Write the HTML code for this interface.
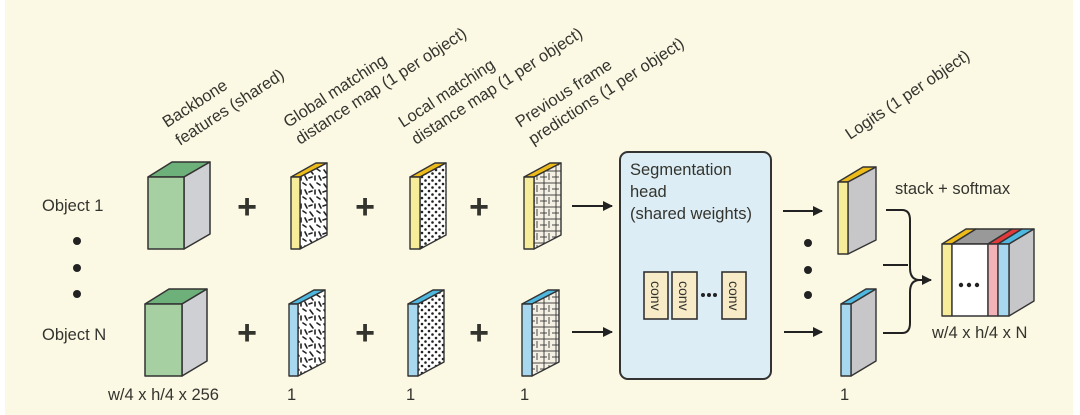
<!DOCTYPE html>
<html><head><meta charset="utf-8"><style>
html,body{margin:0;padding:0;background:#fff;}
svg{display:block;}
text{font-family:"Liberation Sans",sans-serif;fill:#34342e;}
</style></head><body>
<svg width="1080" height="415" viewBox="0 0 1080 415" xmlns="http://www.w3.org/2000/svg">
<defs>
<pattern id="dash" width="14" height="14" patternUnits="userSpaceOnUse">
<rect width="14" height="14" fill="#fff"/>
<g stroke="#222" stroke-width="1.6" stroke-linecap="round">
<line x1="2" y1="2" x2="5" y2="6"/><line x1="9" y1="1" x2="12" y2="3"/><line x1="7" y1="8" x2="7" y2="12"/><line x1="1" y1="10" x2="4" y2="9"/><line x1="11" y1="8" x2="13" y2="12"/>
</g></pattern>
<pattern id="dots" width="7" height="7" patternUnits="userSpaceOnUse">
<rect width="7" height="7" fill="#fff"/>
<circle cx="2" cy="2" r="1.3" fill="#222"/><circle cx="5.5" cy="5.5" r="1.3" fill="#222"/>
</pattern>
<pattern id="grid" width="12" height="12" patternUnits="userSpaceOnUse">
<rect width="12" height="12" fill="#f4f1e4"/>
<g stroke="#333" stroke-width="0.9"><line x1="0" y1="3" x2="12" y2="3"/><line x1="4" y1="0" x2="4" y2="12"/><line x1="9" y1="5" x2="9" y2="12"/><line x1="0" y1="9" x2="7" y2="9"/></g>
</pattern>
<marker id="ah" markerWidth="10" markerHeight="10" refX="9" refY="5" orient="auto" markerUnits="userSpaceOnUse">
<path d="M0,0 L10,5 L0,10 Z" fill="#222"/></marker>
</defs>
<rect x="5" y="0" width="1068" height="415" fill="#fbf8e4"/>

<g font-size="16.5">
<text transform="translate(167,128) rotate(-33)">Backbone</text>
<text transform="translate(180,146) rotate(-33)">features (shared)</text>
<text transform="translate(288,128) rotate(-33)">Global matching</text>
<text transform="translate(300,145) rotate(-33)">distance map (1 per object)</text>
<text transform="translate(403,128) rotate(-33)">Local matching</text>
<text transform="translate(416,145) rotate(-33)">distance map (1 per object)</text>
<text transform="translate(520,128) rotate(-33)">Previous frame</text>
<text transform="translate(533,145) rotate(-33)">predictions (1 per object)</text>
<text transform="translate(850,140) rotate(-34)">Logits (1 per object)</text>
</g>

<g font-size="16.5">
<text x="42" y="211">Object 1</text>
<text x="42" y="340">Object N</text>
<text x="108" y="400">w/4  x  h/4 x 256</text>
<text x="287" y="400">1</text><text x="406" y="400">1</text><text x="520" y="400">1</text><text x="840" y="400">1</text>
<text x="895" y="194">stack + softmax</text>
<text x="932" y="338">w/4  x  h/4  x N</text>
</g>
<g fill="#222"><circle cx="77" cy="241" r="4"/><circle cx="77" cy="268" r="4"/><circle cx="77" cy="294" r="4"/>
<circle cx="808" cy="243" r="4"/><circle cx="808" cy="270" r="4"/><circle cx="808" cy="295" r="4"/></g>

<g stroke="#333" stroke-width="1.5" stroke-linejoin="round">
<polygon points="148,177 172,162 210,162 184,177" fill="#6db07a"/>
<polygon points="184,177 210,162 210,234 184,249" fill="#cfd0d4"/>
<rect x="148" y="177" width="36" height="72" fill="#a7d0a2"/>
<polygon points="145,304 169,289 207,289 182,304" fill="#6db07a"/>
<polygon points="182,304 207,289 207,361 182,376" fill="#cfd0d4"/>
<rect x="145" y="304" width="37" height="72" fill="#a7d0a2"/>
</g>

<g stroke="#333" stroke-width="1.4" stroke-linejoin="round">
<polygon points="291,177 316,163 327,163 300,177" fill="#eebc1a"/>
<polygon points="300,177 327,163 327,235 300,249" fill="url(#dash)"/>
<rect x="291" y="177" width="9" height="72" fill="#f7ec9a"/>
<polygon points="410,177 435,163 446,163 420,177" fill="#eebc1a"/>
<polygon points="420,177 446,163 446,235 420,249" fill="url(#dots)"/>
<rect x="410" y="177" width="10" height="72" fill="#f7ec9a"/>
<polygon points="524,177 550,163 561,163 534,177" fill="#eebc1a"/>
<polygon points="534,177 561,163 561,235 534,249" fill="url(#grid)"/>
<rect x="524" y="177" width="10" height="72" fill="#f7ec9a"/>

<polygon points="289,304 314,290 325,290 298,304" fill="#4fb8e0"/>
<polygon points="298,304 325,290 325,362 298,376" fill="url(#dash)"/>
<rect x="289" y="304" width="9" height="72" fill="#a7d8ef"/>
<polygon points="408,304 433,290 444,290 418,304" fill="#4fb8e0"/>
<polygon points="418,304 444,290 444,362 418,376" fill="url(#dots)"/>
<rect x="408" y="304" width="10" height="72" fill="#a7d8ef"/>
<polygon points="522,304 548,290 559,290 532,304" fill="#4fb8e0"/>
<polygon points="532,304 559,290 559,362 532,376" fill="url(#grid)"/>
<rect x="522" y="304" width="10" height="72" fill="#a7d8ef"/>

<polygon points="838,182 863,167 876,167 848,182" fill="#eebc1a"/>
<polygon points="848,182 876,167 876,240 848,254" fill="#c7c7c9"/>
<rect x="838" y="182" width="10" height="72" fill="#f7ec9a"/>
<polygon points="841,304 866,289 876,289 851,304" fill="#4fb8e0"/>
<polygon points="851,304 876,289 876,361 851,376" fill="#c7c7c9"/>
<rect x="841" y="304" width="10" height="72" fill="#a7d8ef"/>

<polygon points="942,244 966,229 976,229 952,244" fill="#eebc1a"/>
<polygon points="952,244 976,229 1012,229 988,244" fill="#999"/>
<polygon points="988,244 1012,229 1022,229 998,244" fill="#e23a3a"/>
<polygon points="998,244 1022,229 1034,229 1009,244" fill="#4fb8e0"/>
<polygon points="1009,244 1034,229 1034,301 1009,316" fill="#c7c7c9"/>
<rect x="942" y="244" width="10" height="72" fill="#f7ec9a"/>
<rect x="952" y="244" width="36" height="72" fill="#fff"/>
<rect x="988" y="244" width="10" height="72" fill="#f2b2b6"/>
<rect x="998" y="244" width="11" height="72" fill="#a7d8ef"/>
</g>
<g fill="#222"><circle cx="961" cy="285" r="2.2"/><circle cx="969" cy="285" r="2.2"/><circle cx="977" cy="285" r="2.2"/></g>

<g font-size="34" font-weight="bold" text-anchor="middle">
<text x="247" y="218">+</text><text x="365" y="218">+</text><text x="479" y="218">+</text>
<text x="247" y="344">+</text><text x="365" y="344">+</text><text x="479" y="344">+</text>
</g>

<g stroke="#222" stroke-width="2" fill="none">
<line x1="572" y1="206" x2="612" y2="206" marker-end="url(#ah)"/>
<line x1="572" y1="332" x2="612" y2="332" marker-end="url(#ah)"/>
<line x1="783" y1="211" x2="822" y2="211" marker-end="url(#ah)"/>
<line x1="784" y1="332" x2="822" y2="332" marker-end="url(#ah)"/>
<path d="M886,210 H902 Q910,210 910,220 V268 Q910,280 920,280"/>
<path d="M883,265 H908"/>
<path d="M883,333 H902 Q910,333 910,323 V292 Q910,280 920,280"/>
<line x1="918" y1="280" x2="931" y2="280" marker-end="url(#ah)"/>
</g>

<rect x="620" y="152" width="151" height="227" rx="8" fill="#dcedf5" stroke="#333" stroke-width="2"/>
<g font-size="16.5"><text x="630" y="175">Segmentation</text><text x="630" y="197">head</text><text x="630" y="219">(shared weights)</text></g>
<g stroke="#333" stroke-width="1.6" fill="#f8ecc8">
<rect x="644" y="272" width="24" height="47"/><rect x="672" y="272" width="25" height="47"/><rect x="722" y="272" width="24" height="47"/>
</g>
<g font-size="14">
<text transform="translate(651,281) rotate(90)">conv</text>
<text transform="translate(679,281) rotate(90)">conv</text>
<text transform="translate(729,281) rotate(90)">conv</text>
</g>
<g fill="#222"><circle cx="703" cy="295" r="2"/><circle cx="709" cy="295" r="2"/><circle cx="715" cy="295" r="2"/></g>
</svg>
</body></html>
